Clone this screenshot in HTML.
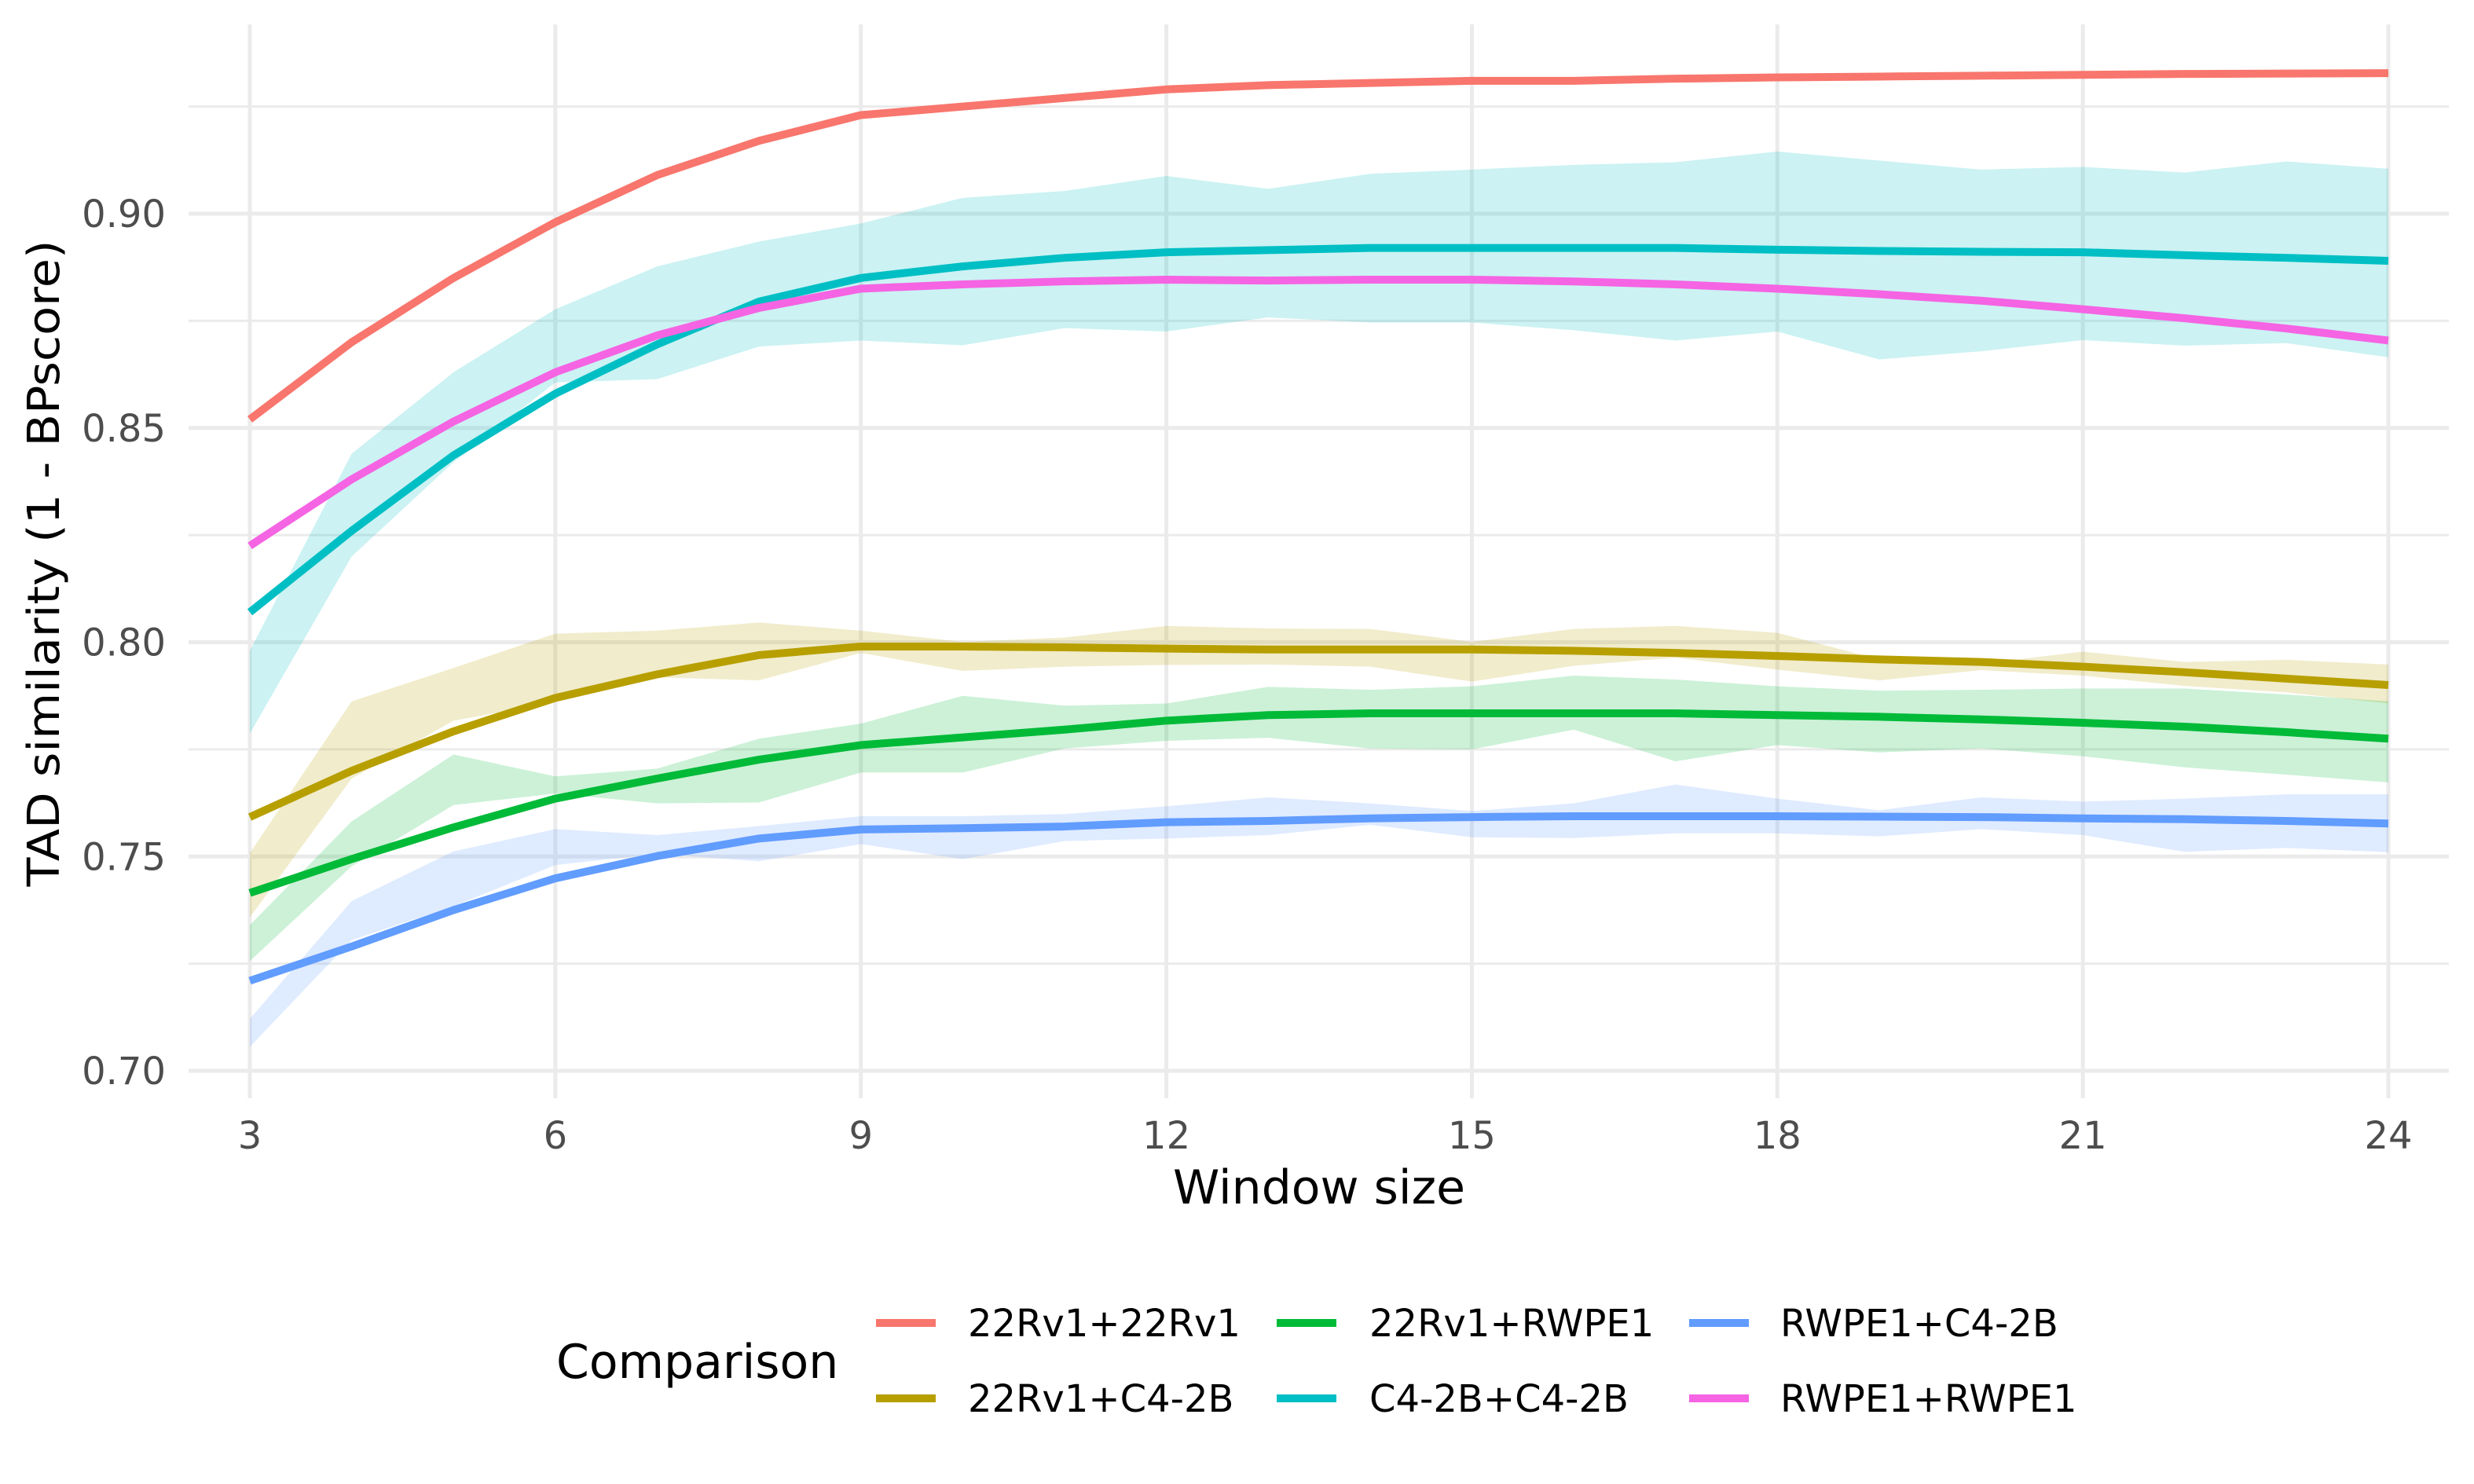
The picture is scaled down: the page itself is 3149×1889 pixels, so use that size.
<!DOCTYPE html>
<html><head><meta charset="utf-8"><style>
html,body{margin:0;padding:0;background:#fff;}
svg{display:block;font-family:"DejaVu Sans","Liberation Sans",sans-serif;}
</style></head><body>
<svg id="chart" width="3149" height="1889" viewBox="0 0 3149 1889" xmlns="http://www.w3.org/2000/svg">
<rect width="3149" height="1889" fill="#fff"/>
<g id="grid"></g>
<g id="ribbons"></g>
<g id="lines"></g>
<g id="axes"></g>
<text x="1679" y="1532" font-size="60" text-anchor="middle" fill="#000">Window size</text>
<text transform="translate(75,717) rotate(-90)" font-size="56" text-anchor="middle" textLength="823" lengthAdjust="spacingAndGlyphs" fill="#000">TAD similarity (1 - BPscore)</text>
<g id="legend">
<text x="708" y="1754" font-size="60" fill="#000">Comparison</text>
</g>
</svg>
<script>
const windowSizes = [3,4,5,6,7,8,9,10,11,12,13,14,15,16,17,18,19,20,21,22,23,24];
const seriesNames = ["22Rv1+22Rv1","22Rv1+C4-2B","22Rv1+RWPE1","C4-2B+C4-2B","RWPE1+C4-2B","RWPE1+RWPE1"];
const redMean = [0.852,0.870,0.885,0.898,0.909,0.917,0.923,0.925,0.927,0.929,0.930,0.9305,0.931,0.931,0.9315,0.9318,0.932,0.9322,0.9324,0.9326,0.9327,0.9328];
const oliveMean = [0.7592,0.770,0.7792,0.787,0.7925,0.797,0.799,0.799,0.7988,0.7985,0.7983,0.7983,0.7983,0.798,0.7975,0.7968,0.796,0.7954,0.7943,0.793,0.7915,0.790];
const greenMean = [0.7415,0.7494,0.7568,0.7635,0.7682,0.7726,0.776,0.7778,0.7796,0.7817,0.783,0.7834,0.7834,0.7834,0.7834,0.783,0.7826,0.782,0.7812,0.7803,0.779,0.7775];
const cyanMean = [0.807,0.826,0.8436,0.858,0.8695,0.8795,0.885,0.8877,0.8897,0.891,0.8915,0.892,0.892,0.892,0.892,0.8916,0.8913,0.8911,0.891,0.8903,0.8897,0.889];
const blueMean = [0.721,0.729,0.7375,0.7449,0.7501,0.7542,0.7563,0.7566,0.757,0.758,0.7583,0.7589,0.7592,0.7594,0.7594,0.7594,0.7593,0.7592,0.7589,0.7587,0.7583,0.7577];
const magentaMean = [0.8225,0.838,0.8515,0.863,0.8716,0.878,0.8825,0.8835,0.8842,0.8846,0.8844,0.8846,0.8846,0.8842,0.8835,0.8825,0.8812,0.8797,0.8777,0.8756,0.8732,0.8704];
const cyanLow = [0.7787,0.820,0.842,0.8606,0.8614,0.869,0.8704,0.8693,0.8733,0.8725,0.8758,0.8746,0.8746,0.8728,0.8704,0.8725,0.866,0.8679,0.8705,0.8692,0.8698,0.8665];
const cyanHigh = [0.798,0.844,0.863,0.8777,0.8877,0.8935,0.8977,0.9037,0.9053,0.9088,0.9058,0.9093,0.9103,0.9114,0.912,0.9145,0.9124,0.9103,0.9109,0.9096,0.9122,0.9105];
const oliveLow = [0.7358,0.7682,0.7817,0.786,0.7918,0.7911,0.7975,0.7933,0.7943,0.7947,0.7948,0.7943,0.7908,0.7945,0.7964,0.7936,0.7911,0.7935,0.7922,0.7898,0.7883,0.7857];
const oliveHigh = [0.7508,0.7862,0.794,0.802,0.8027,0.8046,0.8027,0.8001,0.8011,0.8038,0.8032,0.8031,0.8001,0.8031,0.8038,0.8022,0.796,0.795,0.7978,0.7954,0.7959,0.7948];
const greenLow = [0.7256,0.7477,0.762,0.7647,0.7624,0.7626,0.7696,0.7696,0.7752,0.777,0.7777,0.7752,0.775,0.7796,0.7722,0.776,0.7743,0.7752,0.7734,0.7708,0.7691,0.7673];
const greenHigh = [0.734,0.7582,0.7738,0.7687,0.7705,0.7775,0.781,0.7875,0.7852,0.7857,0.7896,0.7889,0.7897,0.7922,0.7913,0.7897,0.7887,0.7889,0.7892,0.7892,0.7878,0.7862];
const blueLow = [0.7056,0.7305,0.7384,0.748,0.7506,0.7489,0.7529,0.7494,0.7536,0.7542,0.755,0.7574,0.7545,0.7543,0.7554,0.7554,0.7547,0.7564,0.755,0.7511,0.752,0.7510];
const blueHigh = [0.7121,0.7396,0.7512,0.7564,0.755,0.7571,0.7594,0.7594,0.7599,0.7617,0.7638,0.7624,0.7606,0.7624,0.7668,0.7635,0.7608,0.7638,0.7628,0.7635,0.7645,0.7645];
const yTicks = [0.70,0.75,0.80,0.85,0.90];
const yTickLabels = ["0.70","0.75","0.80","0.85","0.90"];
const yMinor = [0.725,0.775,0.825,0.875,0.925];
const xTicks = [3,6,9,12,15,18,21,24];

const NS = "http://www.w3.org/2000/svg";
const X0 = 318, X1 = 3040, PL = 240, PR = 3117, PT = 31, PB = 1398;
function xs(v){ return X0 + (v - 3) * (X1 - X0) / 21; }
function ys(v){ return 1363 - (v - 0.70) * 5455; }
function mk(tag, attrs, parent){ const e = document.createElementNS(NS, tag); for (const k in attrs) e.setAttribute(k, attrs[k]); parent.appendChild(e); return e; }

const grid = document.getElementById('grid');
yMinor.forEach(v => {
  const l = mk('line', {x1:PL, x2:PR, y1:ys(v), y2:ys(v), stroke:'#ebebeb', 'stroke-width':3}, grid);
  
  
});
yTicks.forEach(v => {
  const l = mk('line', {x1:PL, x2:PR, y1:ys(v), y2:ys(v), stroke:'#ebebeb', 'stroke-width':5}, grid);
  
  
});
xTicks.forEach(v => {
  const l = mk('line', {x1:xs(v), x2:xs(v), y1:PT, y2:PB, stroke:'#ebebeb', 'stroke-width':5}, grid);
  
  
});

const axes = document.getElementById('axes');
yTicks.forEach((v, i) => {
  const t = mk('text', {x:211, y:ys(v)+17, 'font-size':48, 'text-anchor':'end', fill:'#4d4d4d'}, axes);
  t.textContent = yTickLabels[i];
  
  
});
xTicks.forEach(v => {
  const t = mk('text', {x:xs(v), y:1462, 'font-size':48, 'text-anchor':'middle', fill:'#4d4d4d'}, axes);
  t.textContent = String(v);
  
  
});

const colors = ["#F8766D","#B79F00","#00BA38","#00BFC4","#619CFF","#F564E3"];
const means = [redMean, oliveMean, greenMean, cyanMean, blueMean, magentaMean];
const bands = [null, [oliveLow, oliveHigh], [greenLow, greenHigh], [cyanLow, cyanHigh], [blueLow, blueHigh], null];
const rib = document.getElementById('ribbons');
bands.forEach((b, i) => {
  if (!b) return;
  const up = windowSizes.map((w, j) => xs(w) + ',' + ys(b[1][j]));
  const lo = windowSizes.map((w, j) => xs(w) + ',' + ys(b[0][j])).reverse();
  const p = mk('polygon', {points: up.concat(lo).join(' '), fill: colors[i], 'fill-opacity':0.2}, rib);
  
  
});
const lines = document.getElementById('lines');
means.forEach((m, i) => {
  const pts = windowSizes.map((w, j) => xs(w) + ',' + ys(m[j])).join(' ');
  const p = mk('polyline', {points: pts, fill:'none', stroke: colors[i], 'stroke-width':10, 'stroke-linejoin':'round'}, lines);
  
  
});

const legend = document.getElementById('legend');
const keyX = [1115, 1625, 2150], labX = [1232, 1743, 2266], rowY = [1684, 1780];
const order = [[0,2,4],[1,3,5]];
order.forEach((row, r) => row.forEach((si, c) => {
  const g = mk('g', {}, legend);
  
  
  mk('line', {x1:keyX[c], x2:keyX[c]+76, y1:rowY[r], y2:rowY[r], stroke:colors[si], 'stroke-width':10}, g);
  const t = mk('text', {x:labX[c], y:rowY[r]+17, 'font-size':48, fill:'#000'}, g);
  t.textContent = seriesNames[si];
}));
</script>
</body></html>
